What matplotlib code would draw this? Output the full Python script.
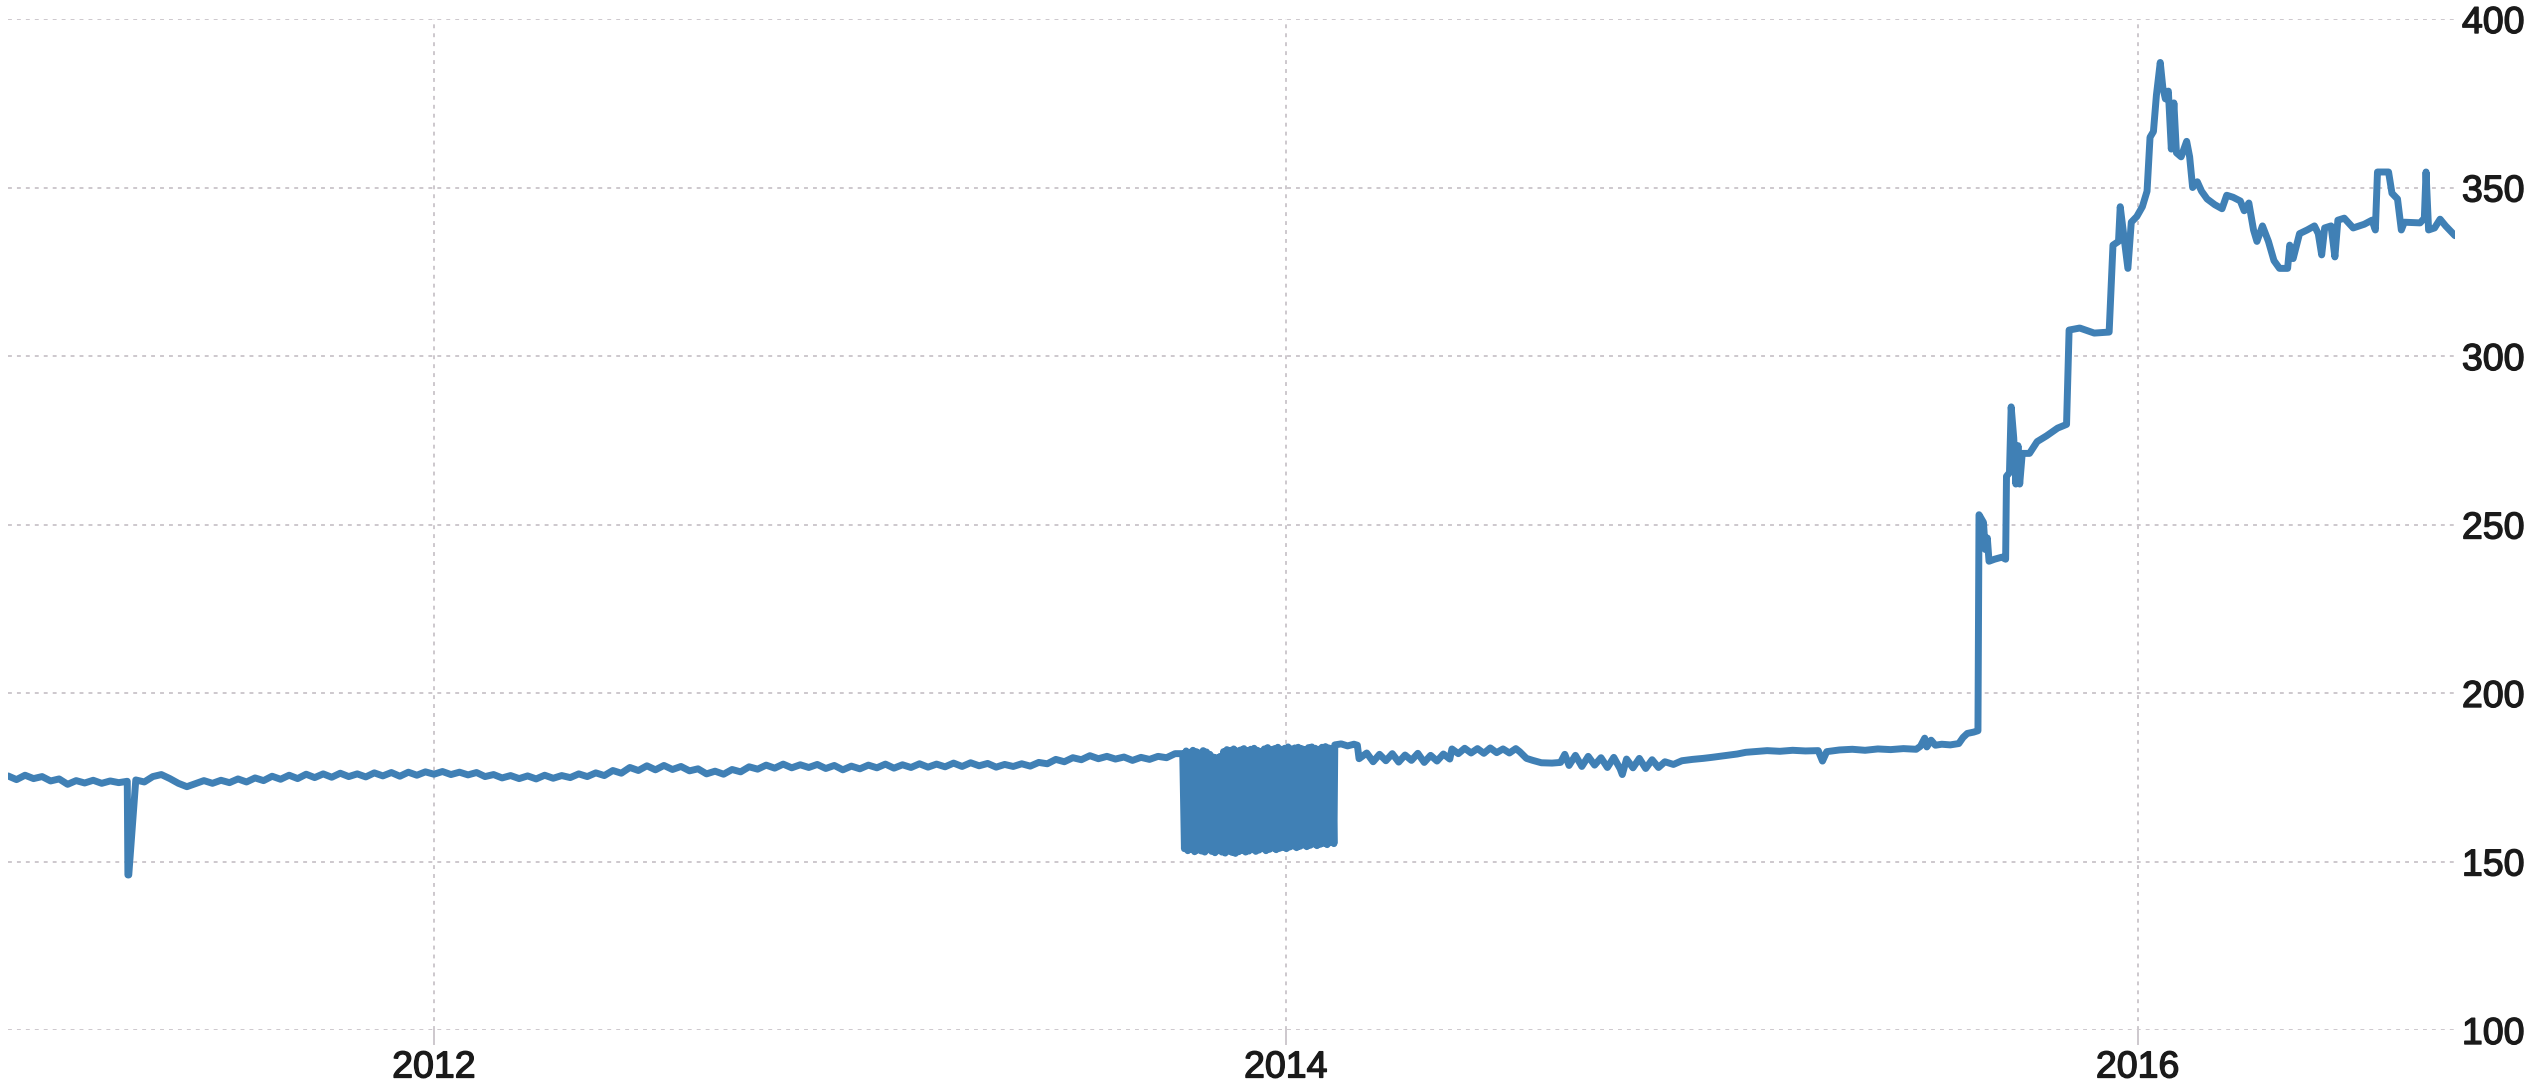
import numpy as np
import matplotlib
matplotlib.use("Agg")
import matplotlib.pyplot as plt
import matplotlib.patheffects as pe

# ── data (decimal years, value) ───────────────────────────────────────────────

# 2011.00 - 2013.74, sampled every ~0.02 yr
early_vals = [
    175.4, 174.3, 175.6, 174.6, 175.2, 173.9, 174.5, 172.9, 174.0, 173.3,
    174.1, 173.2, 173.9, 173.4, 173.8, 174.2, 173.6, 175.2, 175.8, 174.6,
    173.2, 172.2, 173.1, 174.0, 173.2, 174.1, 173.4, 174.5, 173.6, 174.8,
    174.0, 175.3, 174.4, 175.6, 174.6, 175.9, 174.9, 176.0, 175.0, 176.2,
    175.2, 176.0, 175.1, 176.3, 175.4, 176.4, 175.3, 176.5, 175.6, 176.6,
    175.9, 176.7, 175.8, 176.5, 175.7, 176.4, 175.2, 175.8, 174.8, 175.5,
    174.6, 175.4, 174.5, 175.6, 174.7, 175.5, 174.9, 176.0, 175.2, 176.3,
    175.5, 177.0, 176.2, 177.9, 177.0, 178.4, 177.2, 178.5, 177.3, 178.2,
    176.9, 177.5, 176.0, 176.8, 175.9, 177.3, 176.6, 178.1, 177.4, 178.6,
    177.7, 178.9, 177.8, 178.7, 177.9, 178.8, 177.6, 178.5, 177.2, 178.3,
    177.5, 178.6, 177.8, 178.9, 177.7, 178.7, 177.9, 179.0, 178.0, 178.9,
    178.1, 179.2, 178.2, 179.3, 178.4, 179.1, 178.0, 178.8, 178.2, 179.0,
    178.3, 179.4, 179.0, 180.3, 179.6, 180.8, 180.2, 181.4, 180.5, 181.2,
    180.4, 181.0, 180.0, 180.9, 180.3, 181.2, 180.8, 182.0,
]
early_start, early_end = 2011.0, 2013.74

# one-off drop in April 2011
spike_t = [2011.2815, 2011.2835]
spike_v = [146.0, 146.0]

# late 2013 - early 2014: values flip between two levels day to day
osc_start, osc_end = 2013.758, 2014.113
osc_hi = [
    182.0, 182.8, 182.4, 183.0, 182.6, 182.2, 182.9, 182.5, 181.8, 181.0,
    180.8, 181.2, 182.6, 183.2, 183.0, 183.4, 182.8, 183.1, 183.5, 182.9,
    183.3, 183.6, 183.0, 182.7, 183.4, 183.8, 183.2, 183.5, 183.9, 183.3,
    183.6, 184.0, 183.4, 183.7, 183.9, 183.5, 183.2, 183.8, 184.0, 183.6,
    183.3, 183.9, 184.1, 183.7, 183.5,
]
osc_lo = [
    153.8, 153.2, 153.6, 152.9, 153.4, 153.1, 152.8, 153.5, 153.0, 152.6,
    153.2, 152.8, 152.5, 153.1, 152.7, 152.4, 152.9, 153.3, 152.8, 153.1,
    153.5, 153.0, 153.4, 153.8, 153.2, 153.6, 154.0, 153.5, 153.9, 154.2,
    153.8, 154.3, 154.6, 154.1, 154.5, 154.9, 154.4, 154.8, 155.2, 154.7,
    155.1, 155.4, 155.0, 155.6, 155.3,
]

mid_t = [
    2014.115, 2014.13, 2014.145, 2014.16, 2014.168,
    2014.172, 2014.19, 2014.205, 2014.22, 2014.235, 2014.25, 2014.265, 2014.28,
    2014.295, 2014.31, 2014.325, 2014.34, 2014.355, 2014.37, 2014.385,
    2014.39, 2014.405, 2014.42, 2014.435, 2014.45, 2014.465, 2014.48, 2014.495,
    2014.51, 2014.525, 2014.54, 2014.549,
    2014.565, 2014.58, 2014.60, 2014.625, 2014.645,
    2014.655, 2014.665, 2014.68, 2014.695, 2014.71, 2014.725, 2014.74, 2014.755,
    2014.77, 2014.785, 2014.79, 2014.80, 2014.815, 2014.83, 2014.845, 2014.86,
    2014.875, 2014.89,
    2014.91, 2014.93, 2014.955, 2014.98, 2015.00, 2015.03, 2015.06, 2015.08,
    2015.10, 2015.13, 2015.16, 2015.19, 2015.22, 2015.25, 2015.26, 2015.27,
    2015.30, 2015.33, 2015.36, 2015.39, 2015.42, 2015.45, 2015.48, 2015.49,
    2015.50, 2015.505, 2015.515, 2015.525, 2015.54, 2015.56, 2015.58, 2015.59,
    2015.60, 2015.615, 2015.625,
]
mid_v = [
    184.6, 184.9, 184.3, 184.8, 184.5,
    180.5, 182.2, 179.6, 181.8, 179.9, 182.0, 179.5, 181.6,
    180.0, 182.1, 179.4, 181.5, 179.8, 181.9, 180.4,
    183.4, 182.0, 183.6, 182.2, 183.5, 182.1, 183.7, 182.3,
    183.4, 182.2, 183.5, 182.6,
    180.6, 180.0, 179.3, 179.2, 179.4,
    181.8, 178.5, 181.5, 178.2, 181.2, 178.6, 180.8, 177.9,
    180.9, 177.5, 175.8, 180.4, 177.8, 180.6, 177.6, 180.2,
    177.9, 179.6,
    178.8, 179.9, 180.3, 180.6, 180.9, 181.4, 181.9, 182.4,
    182.6, 182.9, 182.7, 183.0, 182.8, 182.9, 179.8, 182.6,
    183.1, 183.3, 183.0, 183.4, 183.2, 183.5, 183.3, 184.2,
    186.6, 184.0, 186.0, 184.5, 184.8, 184.6, 185.0, 186.8,
    188.0, 188.4, 188.8,
]

late_t = [
    2015.6275, 2015.638, 2015.642, 2015.647, 2015.651, 2015.664, 2015.681, 2015.69,
    2015.692, 2015.699, 2015.703, 2015.709, 2015.714, 2015.719, 2015.723, 2015.729,
    2015.746, 2015.764, 2015.786, 2015.812, 2015.833,
    2015.839, 2015.864, 2015.898, 2015.933,
    2015.942, 2015.955, 2015.959, 2015.968, 2015.977, 2015.985, 2015.998, 2016.011,
    2016.022, 2016.029, 2016.037, 2016.044, 2016.053, 2016.059, 2016.065, 2016.072,
    2016.079, 2016.085, 2016.091, 2016.102, 2016.115, 2016.122, 2016.129, 2016.14,
    2016.15, 2016.163, 2016.181, 2016.198, 2016.209, 2016.224, 2016.241, 2016.25,
    2016.261, 2016.272, 2016.28, 2016.293, 2016.307, 2016.32, 2016.333, 2016.352,
    2016.357, 2016.365, 2016.38, 2016.398, 2016.415, 2016.424, 2016.432, 2016.439,
    2016.454, 2016.463, 2016.47, 2016.485, 2016.506, 2016.532, 2016.55, 2016.558,
    2016.563, 2016.589, 2016.597, 2016.61, 2016.619, 2016.626, 2016.663, 2016.673,
    2016.677, 2016.683, 2016.697, 2016.71, 2016.723, 2016.745,
]
late_v = [
    252.9, 250.6, 242.6, 246.0, 239.1, 239.7, 240.3, 239.7,
    264.3, 265.4, 284.9, 275.7, 262.0, 273.4, 262.0, 271.1,
    271.1, 274.6, 276.3, 278.6, 279.7,
    307.7, 308.3, 306.8, 307.1,
    332.9, 334.0, 344.3, 335.1, 326.0, 339.7, 341.4, 344.3,
    348.9, 364.9, 366.6, 377.4, 387.1, 379.7, 376.3, 378.6,
    361.4, 375.1, 360.3, 359.1, 363.7, 359.1, 350.0, 351.7,
    348.9, 346.6, 344.9, 343.7, 347.7, 347.1, 346.0, 343.1,
    345.4, 337.4, 334.0, 338.6, 334.0, 328.3, 326.0, 326.0,
    332.9, 328.9, 336.3, 337.4, 338.6, 336.3, 330.0, 338.0,
    338.6, 329.4, 340.3, 340.9, 338.0, 339.1, 340.3, 337.4,
    354.6, 354.6, 348.3, 346.6, 337.4, 339.7, 339.5, 340.9,
    354.6, 337.4, 338.0, 340.6, 338.6, 335.7,
]

x_ticks = [2012, 2014, 2016]
x_labels = ["2012", "2014", "2016"]
y_ticks = [100, 150, 200, 250, 300, 350, 400]

# ── assemble series ──────────────────────────────────────────────────────────

early_t = np.linspace(early_start, early_end, len(early_vals))
base_t = np.concatenate([early_t, spike_t])
base_v = np.concatenate([early_vals, spike_v])
order = np.argsort(base_t)
base_t, base_v = base_t[order], base_v[order]

osc_v = np.empty(len(osc_hi) * 2)
osc_v[0::2] = osc_hi
osc_v[1::2] = osc_lo
osc_t = np.linspace(osc_start, osc_end, len(osc_v))

t = np.concatenate([base_t, osc_t, mid_t, late_t])
v = np.concatenate([base_v, osc_v, mid_v, late_v])

# ── plot ─────────────────────────────────────────────────────────────────────

W, H, DPI = 2531, 1088, 100
fig = plt.figure(figsize=(W / DPI, H / DPI), dpi=DPI)
ax = fig.add_axes([8 / W, 58 / H, (2455 - 8) / W, (1069 - 58) / H])

grid_kw = dict(color="#cdc8cd", linewidth=1.4, dashes=(2.0, 2.6), zorder=1)
for yv in y_ticks:
    ax.axhline(yv, **grid_kw)
for xv in x_ticks:
    ax.axvline(xv, **grid_kw)

ax.plot(t, v, color="#4080b5", linewidth=5.0, solid_joinstyle="round",
        solid_capstyle="round", zorder=3)

ax.set_xlim(2011.0, 2016.745)
ax.set_ylim(100, 400)
for s in ax.spines.values():
    s.set_visible(False)

txt_col = "#1a1a1a"
ax.yaxis.tick_right()
ax.set_yticks(y_ticks)
ax.set_yticklabels([str(y) for y in y_ticks])
ax.tick_params(axis="y", length=0, pad=5, labelsize=27, labelcolor=txt_col)
ax.set_xticks(x_ticks)
ax.set_xticklabels(x_labels)
ax.tick_params(axis="x", length=11, width=1.4, color="#cdc8cd", pad=3,
               labelsize=27, labelcolor=txt_col)
# regular face, thickened a little to match the heavier screen rendering
for lab in ax.get_xticklabels() + ax.get_yticklabels():
    lab.set_fontfamily("Liberation Sans")
    lab.set_path_effects([pe.withStroke(linewidth=1.0, foreground=txt_col)])

fig.savefig("out.png", dpi=DPI)
